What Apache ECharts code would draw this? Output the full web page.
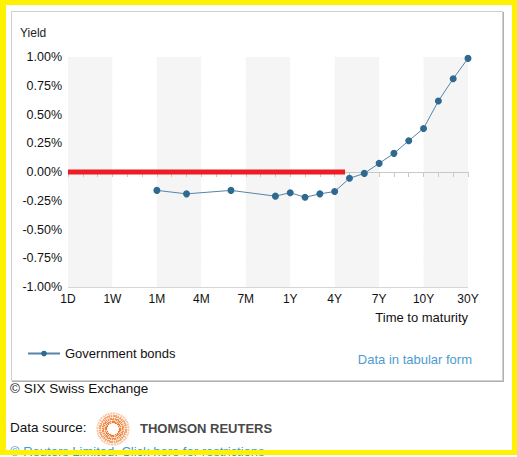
<!DOCTYPE html>
<html>

<head>
    <meta charset="utf-8" />
    <title>Swiss government bond yield curve</title>
    <script src="https://cdn.jsdelivr.net/npm/echarts@6.0.0/dist/echarts.min.js"></script>
    <style>
        body { margin: 0; background: #fff; overflow: hidden; font-family: "Liberation Sans", Arial, sans-serif; }
        #frame { position: absolute; left: 0; top: 0; width: 517px; height: 455px; box-sizing: border-box;
                 border: solid #fff200; border-width: 5px 5px 5px 6px; pointer-events: none; z-index: 10; }
        #main { position: absolute; left: 11px; top: 11px; width: 490px; height: 368px;
                border: 1px solid #d0d0d0; box-shadow: 1px 1px 0 #b0b0b0; }
        .foot { position: absolute; left: 10px; font-size: 13.5px; color: #111; white-space: nowrap; }
        #logo { position: absolute; left: 96px; top: 412px; width: 34px; height: 34px; border-radius: 50%;
                background: radial-gradient(circle, #fff 0 22%, #ec7a2e 25%, #f08c4c 40%, #f5ad7c 58%, #fbd4b8 68%, rgba(255,255,255,0) 71%); }
        #logo::after { content: ""; position: absolute; inset: 0; border-radius: 50%;
                background: repeating-radial-gradient(circle, rgba(255,255,255,0) 0 2px, rgba(255,255,255,.6) 2px 3px),
                            repeating-conic-gradient(rgba(255,255,255,0) 0 7deg, rgba(255,255,255,.6) 7deg 10deg); }
        #tr { position: absolute; left: 140px; top: 421px; font-size: 13px; font-weight: bold; color: #4a4a4a; }
    </style>
</head>

<body>
    <div id="main"></div>
    <div class="foot" style="top:381px">© SIX Swiss Exchange</div>
    <div class="foot" style="top:420px">Data source:</div>
    <div id="logo"></div>
    <div id="tr">THOMSON REUTERS</div>
    <div class="foot" style="top:444px;font-size:13px;color:#3c9ad6;text-decoration:underline">© Reuters Limited. Click here for restrictions</div>
    <div id="frame"></div>
    <script type="text/javascript">
        // x axis: 28 evenly spaced maturity slots, a label every third slot
        const tickLabels = ['1D', '1W', '1M', '4M', '7M', '1Y', '4Y', '7Y', '10Y', '30Y'];
        // slot index of each quoted maturity
        const maturitySlots = [6, 8, 11, 14, 15, 16, 17, 18, 19, 20, 21, 22, 23, 24, 25, 26, 27];
        // yields in %
        const yields = [-0.16, -0.19, -0.16, -0.21, -0.18, -0.22, -0.19, -0.17, -0.055, -0.012,
            0.075, 0.162, 0.272, 0.379, 0.617, 0.811, 0.988];
        // red zero marker, from 1D to just past 4Y
        const zeroMark = [[0, 0], [18.7, 0]];

        var myChart = echarts.init(document.getElementById('main'), null, { renderer: 'svg' });
        var font = '"Liberation Sans", Arial, sans-serif';

        var option = {
            animation: false,
            textStyle: { fontFamily: font },
            grid: { left: 56, top: 45, width: 400, height: 230 },
            legend: {
                data: ['Government bonds'],
                left: 10,
                top: 330,
                itemWidth: 32,
                itemHeight: 7,
                itemGap: 10,
                textStyle: { fontSize: 13, color: '#111' }
            },
            graphic: [
                { type: 'text', left: 8, top: 15, style: { text: 'Yield', fontSize: 12, fill: '#222', fontFamily: font } },
                { type: 'text', right: 34, top: 299, style: { text: 'Time to maturity', fontSize: 13, fill: '#111', fontFamily: font } },
                { type: 'text', right: 30, top: 341, style: { text: 'Data in tabular form', fontSize: 13, fill: '#4c9ccf', fontFamily: font } }
            ],
            xAxis: {
                type: 'value',
                min: 0,
                max: 27,
                interval: 3,
                axisLine: { lineStyle: { color: '#c8c8c8' } },
                axisTick: { length: 5, lineStyle: { color: '#c8c8c8' } },
                minorTick: { show: true, splitNumber: 3, length: 5, lineStyle: { color: '#c8c8c8' } },
                axisLabel: {
                    margin: 6,
                    fontSize: 12,
                    color: '#111',
                    formatter: function (v) { return tickLabels[Math.round(v / 3)]; }
                },
                splitLine: { show: false },
                splitArea: { show: true, areaStyle: { color: ['#f5f5f5', '#ffffff'] } }
            },
            yAxis: {
                type: 'value',
                min: -1,
                max: 1,
                interval: 0.25,
                axisLine: { show: false },
                axisTick: { show: false },
                axisLabel: {
                    margin: 6,
                    fontSize: 12.5,
                    color: '#111',
                    formatter: function (v) { return v.toFixed(2) + '%'; }
                },
                splitLine: { lineStyle: { color: '#d6d6d6' } }
            },
            series: [
                {
                    name: 'Government bonds',
                    type: 'line',
                    data: maturitySlots.map(function (s, i) { return [s, yields[i]]; }),
                    symbol: 'circle',
                    symbolSize: 7,
                    itemStyle: { color: '#2e6a8f' },
                    lineStyle: { color: '#5585a6', width: 1 },
                    z: 3
                },
                {
                    name: 'zero',
                    type: 'line',
                    data: zeroMark,
                    symbol: 'none',
                    silent: true,
                    lineStyle: { color: '#ee1c24', width: 5 },
                    z: 4
                }
            ]
        };

        myChart.setOption(option);
    </script>
</body>

</html>
